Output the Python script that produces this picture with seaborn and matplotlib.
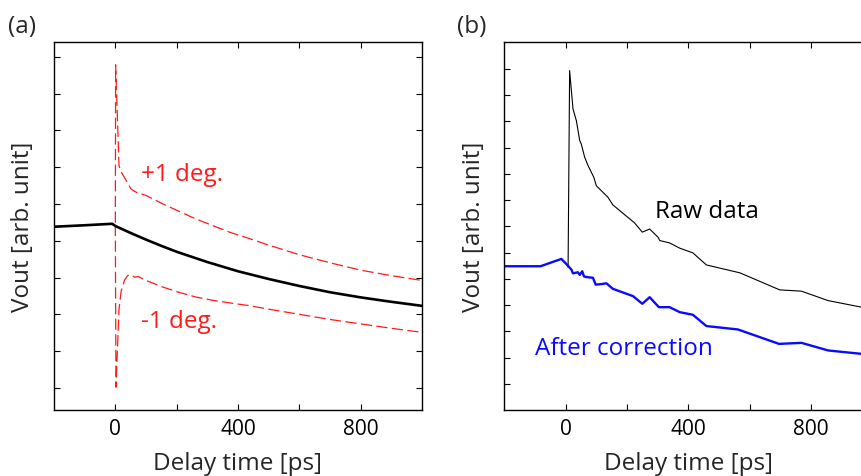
import matplotlib
matplotlib.use("Agg")
import matplotlib.pyplot as plt
import seaborn as sns
import numpy as np

# ---- data: panel (a) ----
t_a_black = [-200, -100, -10, 0, 50, 100, 150, 200, 250, 300, 400, 500, 600, 700, 800, 900, 1000]
v_a_black = [4.38, 4.42, 4.46, 4.40, 4.21, 4.03, 3.86, 3.70, 3.56, 3.42, 3.17, 2.96, 2.77, 2.60, 2.46, 2.34, 2.23]

t_a_plus = [-200, -100, -10, 0, 1, 12, 20, 36, 50, 57, 70, 100, 155, 210, 263, 318, 373, 433, 500, 600, 700, 800, 900, 1000]
v_a_plus = [4.38, 4.42, 4.46, 4.46, 8.78, 6.04, 5.85, 5.63, 5.42, 5.37, 5.31, 5.23, 5.00, 4.79, 4.59, 4.41, 4.23, 4.07, 3.88, 3.62, 3.40, 3.20, 3.05, 2.92]

t_a_minus = [-200, -100, -10, 0, 2, 12, 19, 30, 40, 49, 63, 74, 100, 155, 210, 263, 318, 373, 433, 500, 600, 700, 800, 900, 1000]
v_a_minus = [4.38, 4.42, 4.46, 4.46, 0.02, 2.14, 2.63, 2.93, 3.05, 3.08, 3.01, 3.03, 2.92, 2.74, 2.59, 2.47, 2.38, 2.31, 2.24, 2.14, 2.00, 1.86, 1.74, 1.62, 1.51]

# ---- data: panel (b) ----
t_b_raw = [-200, -82, -14, 2, 8, 13, 24, 35, 46, 51, 62, 73, 92, 100, 138, 154, 225, 250, 274, 301, 307, 339, 372, 415, 459, 568, 698, 769, 856, 965]
v_b_raw = [4.48, 4.48, 4.76, 4.57, 4.45, 11.94, 10.48, 10.03, 9.27, 9.14, 8.64, 8.32, 7.87, 7.55, 7.11, 6.82, 6.13, 5.78, 5.90, 5.59, 5.46, 5.37, 5.17, 4.99, 4.53, 4.23, 3.58, 3.53, 3.17, 2.92]

t_b_corr = [-200, -82, -14, 2, 19, 24, 40, 46, 54, 60, 73, 89, 98, 116, 133, 154, 220, 250, 274, 304, 339, 372, 415, 459, 562, 696, 769, 856, 965]
v_b_corr = [4.48, 4.48, 4.76, 4.57, 4.35, 4.21, 4.25, 4.15, 4.29, 4.09, 4.06, 4.04, 3.78, 3.80, 3.83, 3.62, 3.34, 3.05, 3.30, 2.92, 2.92, 2.73, 2.63, 2.20, 2.07, 1.52, 1.56, 1.27, 1.14]

x_ticks = [0, 200, 400, 600, 800]
x_ticklabels = ["0", "", "400", "", "800"]

sns.set_theme(style="ticks")
plt.rcParams['font.family'] = ['Open Sans', 'DejaVu Sans']

FS = 17.5
W, H = 862, 477
fig = plt.figure(figsize=(W / 100, H / 100), dpi=100)
ax1 = fig.add_axes([54 / W, (477 - 411) / H, 368 / W, 368 / H])
ax2 = fig.add_axes([504.3 / W, (477 - 411) / H, 368 / W, 368 / H])

red_kw = dict(color="#ff1a1a", linewidth=0.9, dashes=(9, 3.5))
sns.lineplot(x=t_a_plus, y=v_a_plus, ax=ax1, sort=False, estimator=None, **red_kw)
sns.lineplot(x=t_a_minus, y=v_a_minus, ax=ax1, sort=False, estimator=None, **red_kw)
sns.lineplot(x=t_a_black, y=v_a_black, ax=ax1, sort=False, estimator=None, color="black", linewidth=1.9)

sns.lineplot(x=t_b_raw, y=v_b_raw, ax=ax2, sort=False, estimator=None, color="black", linewidth=0.8)
sns.lineplot(x=t_b_corr, y=v_b_corr, ax=ax2, sort=False, estimator=None, color="#0a0aff", linewidth=1.7)

for ax in (ax1, ax2):
    ax.set_xlim(-200, 1000)
    ax.set_xticks(x_ticks)
    ax.set_xticklabels(x_ticklabels)
    ax.tick_params(direction="in", top=True, right=True, length=4.5, width=0.8,
                   labelsize=15, colors="black", pad=5.5)
    ax.set_xlabel("Delay time [ps]", fontsize=FS, labelpad=9)
    ax.set_ylabel("Vout [arb. unit]", fontsize=FS, labelpad=8)
    for s in ax.spines.values():
        s.set_linewidth(1.0)
        s.set_color("black")

ax1.set_ylim(-0.6, 9.4)
ax1.set_yticks(range(0, 10))
ax1.set_yticklabels([])
ax2.set_ylim(-1.0, 13.03)
ax2.set_yticks(range(0, 13))
ax2.set_yticklabels([])

ax1.text(85, 5.82, "+1 deg.", color="#ff1a1a", fontsize=FS, ha="left", va="center")
ax1.text(83, 1.82, "-1 deg.", color="#ff1a1a", fontsize=FS, ha="left", va="center")
ax2.text(290, 6.59, "Raw data", color="black", fontsize=FS, ha="left", va="center")
ax2.text(-101, 1.37, "After correction", color="#0a0aff", fontsize=FS, ha="left", va="center")

fig.text(22 / W, 1 - 27 / H, "(a)", fontsize=FS, ha="center", va="center")
fig.text(472 / W, 1 - 27 / H, "(b)", fontsize=FS, ha="center", va="center")

fig.savefig("out.png", dpi=100)
